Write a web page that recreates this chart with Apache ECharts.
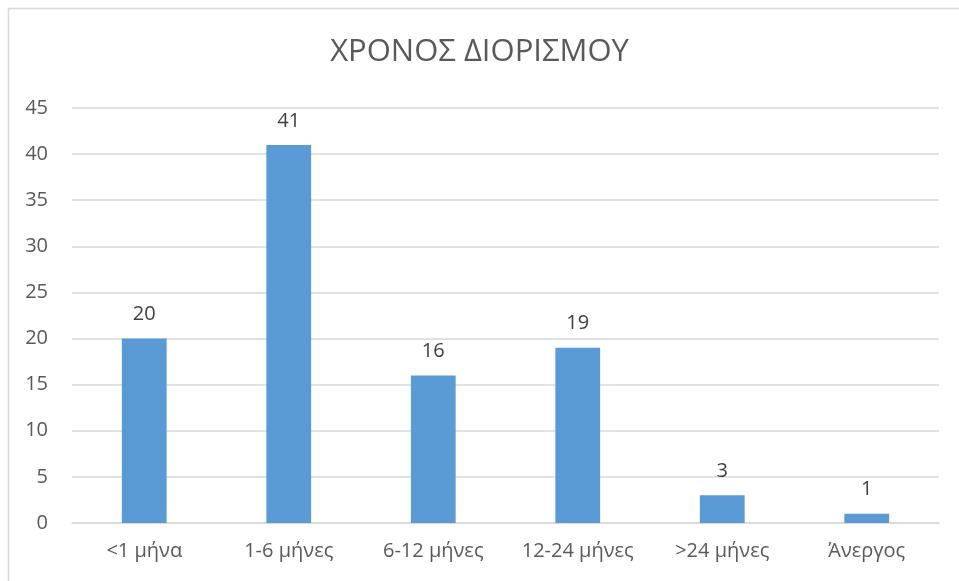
<!DOCTYPE html>
<html>
<head>
<meta charset="utf-8">
<script src="https://cdn.jsdelivr.net/npm/echarts@6/dist/echarts.min.js"></script>
<style>
  html, body { margin: 0; padding: 0; background: #fff; }
  #chart { width: 959px; height: 581px; }
</style>
</head>
<body>
<div id="chart"></div>
<script>
const categories = ['<1 μήνα', '1-6 μήνες', '6-12 μήνες', '12-24 μήνες', '>24 μήνες', 'Άνεργος'];
const values = [20, 41, 16, 19, 3, 1];

const chart = echarts.init(document.getElementById('chart'));
chart.setOption({
  animation: false,
  textStyle: { fontFamily: 'Open Sans, Noto Sans, sans-serif' },
  graphic: [{
    type: 'rect',
    shape: { x: 8.5, y: 8.5, width: 980, height: 600 },
    style: { fill: 'none', stroke: '#d9d9d9', lineWidth: 1.5 },
    silent: true
  }],
  title: {
    text: 'ΧΡΟΝΟΣ ΔΙΟΡΙΣΜΟΥ',
    left: 'center',
    top: 32,
    textStyle: { fontSize: 31, fontWeight: 'normal', color: '#595959', fontFamily: 'Open Sans, Noto Sans, sans-serif' }
  },
  grid: { left: 72, right: 20, top: 108, bottom: 58, containLabel: false },
  xAxis: {
    type: 'category',
    data: categories,
    axisLine: { lineStyle: { color: '#d9d9d9', width: 1.5 } },
    axisTick: { show: false },
    axisLabel: { fontSize: 20, color: '#595959', margin: 18, interval: 0, hideOverlap: false }
  },
  yAxis: {
    type: 'value',
    min: 0,
    max: 45,
    interval: 5,
    axisLine: { show: false },
    axisTick: { show: false },
    splitLine: { lineStyle: { color: '#d9d9d9', width: 1.5 } },
    axisLabel: { fontSize: 20, color: '#595959', margin: 24 }
  },
  series: [{
    type: 'bar',
    data: values,
    barWidth: '31%',
    itemStyle: { color: '#5b9bd5' },
    label: { show: true, position: 'top', distance: 14, fontSize: 20, color: '#404040' }
  }]
});
</script>
</body>
</html>
